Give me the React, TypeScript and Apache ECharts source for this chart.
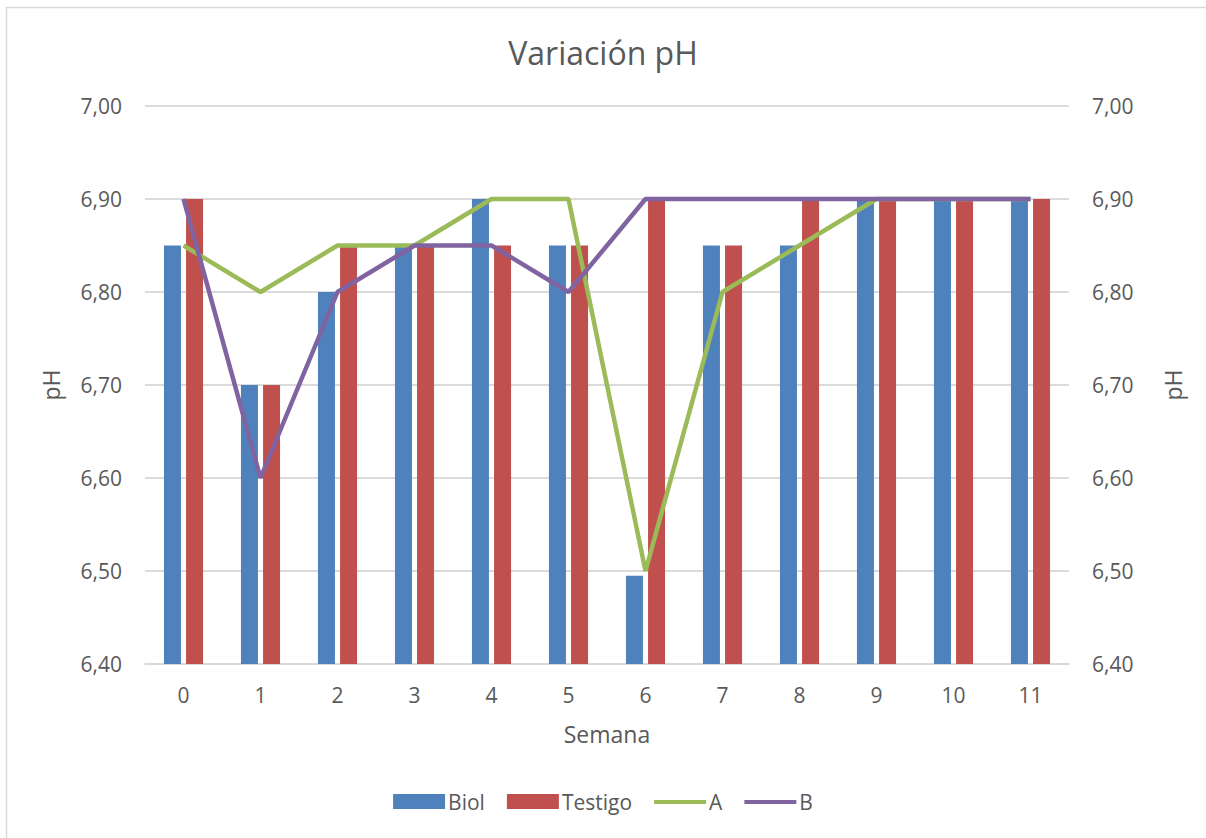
import React, { useEffect, useRef } from "react";
import * as echarts from "echarts";

const weeks = ["0", "1", "2", "3", "4", "5", "6", "7", "8", "9", "10", "11"];
const biol = [6.85, 6.7, 6.8, 6.85, 6.9, 6.85, 6.495, 6.85, 6.85, 6.9, 6.9, 6.9];
const testigo = [6.9, 6.7, 6.85, 6.85, 6.85, 6.85, 6.9, 6.85, 6.9, 6.9, 6.9, 6.9];
const serieA = [6.85, 6.8, 6.85, 6.85, 6.9, 6.9, 6.5, 6.8, 6.85, 6.9, 6.9, 6.9];
const serieB = [6.9, 6.6, 6.8, 6.85, 6.85, 6.8, 6.9, 6.9, 6.9, 6.9, 6.9, 6.9];

const FONT = "'Open Sans', 'Liberation Sans', sans-serif";
const TXT = "#595959";
const LINE_ICON = "path://M0,0 M0,6 L52,6 L52,10 L0,10 Z M52,15";

export default function App() {
  const ref = useRef<HTMLDivElement>(null);
  useEffect(() => {
    const chart = echarts.init(ref.current!, null, { renderer: "svg" });
    const fmt = (v: number) => v.toFixed(2).replace(".", ",");
    const yAxisCommon = {
      type: "value",
      min: 6.4,
      max: 7.0,
      interval: 0.1,
      name: "pH",
      nameLocation: "middle",
      nameTextStyle: { color: TXT, fontSize: 23, fontFamily: FONT },
      axisLine: { show: false },
      axisTick: { show: false },
      axisLabel: { color: TXT, fontSize: 21, fontFamily: FONT, margin: 23, formatter: fmt },
      splitLine: { lineStyle: { color: "#d9d9d9", width: 1.5 } },
    };
    chart.setOption({
      animation: false,
      backgroundColor: "#ffffff",
      title: {
        text: "Variación pH",
        left: "center",
        top: 31,
        textStyle: { color: TXT, fontSize: 32, fontWeight: "normal", fontFamily: FONT },
      },
      graphic: [
        {
          type: "polyline",
          shape: { points: [[6.5, 838], [6.5, 7.5], [1206, 7.5]] },
          style: { fill: "none", stroke: "#d9d9d9", lineWidth: 1.5 },
          silent: true,
        },
      ],
      legend: {
        bottom: 21,
        left: "center",
        itemGap: 22,
        itemWidth: 52,
        itemHeight: 15,
        symbolKeepAspect: false,
        textStyle: { color: TXT, fontSize: 21, fontFamily: FONT, padding: [0, 0, 0, -2] },
        data: [
          { name: "Biol", icon: "rect" },
          { name: "Testigo", icon: "rect" },
          { name: "A", icon: LINE_ICON },
          { name: "B", icon: LINE_ICON },
        ],
      },
      grid: { left: 145, right: 137, top: 106, bottom: 174 },
      xAxis: {
        type: "category",
        data: weeks,
        name: "Semana",
        nameLocation: "middle",
        nameGap: 58,
        nameTextStyle: { color: TXT, fontSize: 23, fontFamily: FONT },
        axisLine: { lineStyle: { color: "#d9d9d9", width: 1.5 } },
        axisTick: { show: false },
        axisLabel: { color: TXT, fontSize: 21, fontFamily: FONT, margin: 20 },
      },
      yAxis: [
        { ...yAxisCommon, position: "left", nameGap: 83 },
        { ...yAxisCommon, position: "right", nameGap: 92, nameRotate: 90 },
      ],
      series: [
        {
          name: "Biol",
          type: "bar",
          data: biol,
          barWidth: 17,
          barGap: "30%",
          itemStyle: { color: "#4F81BD" },
        },
        {
          name: "Testigo",
          type: "bar",
          data: testigo,
          barWidth: 17,
          barGap: "30%",
          itemStyle: { color: "#C0504D" },
        },
        {
          name: "A",
          type: "line",
          data: serieA,
          symbol: "none",
          lineStyle: { color: "#9BBB59", width: 4.5 },
          itemStyle: { color: "#9BBB59" },
        },
        {
          name: "B",
          type: "line",
          data: serieB,
          symbol: "none",
          lineStyle: { color: "#8064A2", width: 4.5 },
          itemStyle: { color: "#8064A2" },
        },
      ],
    });
    return () => chart.dispose();
  }, []);
  return (
    <div
      ref={ref}
      style={{ position: "fixed", left: 0, top: 0, width: 1206, height: 838 }}
    />
  );
}
